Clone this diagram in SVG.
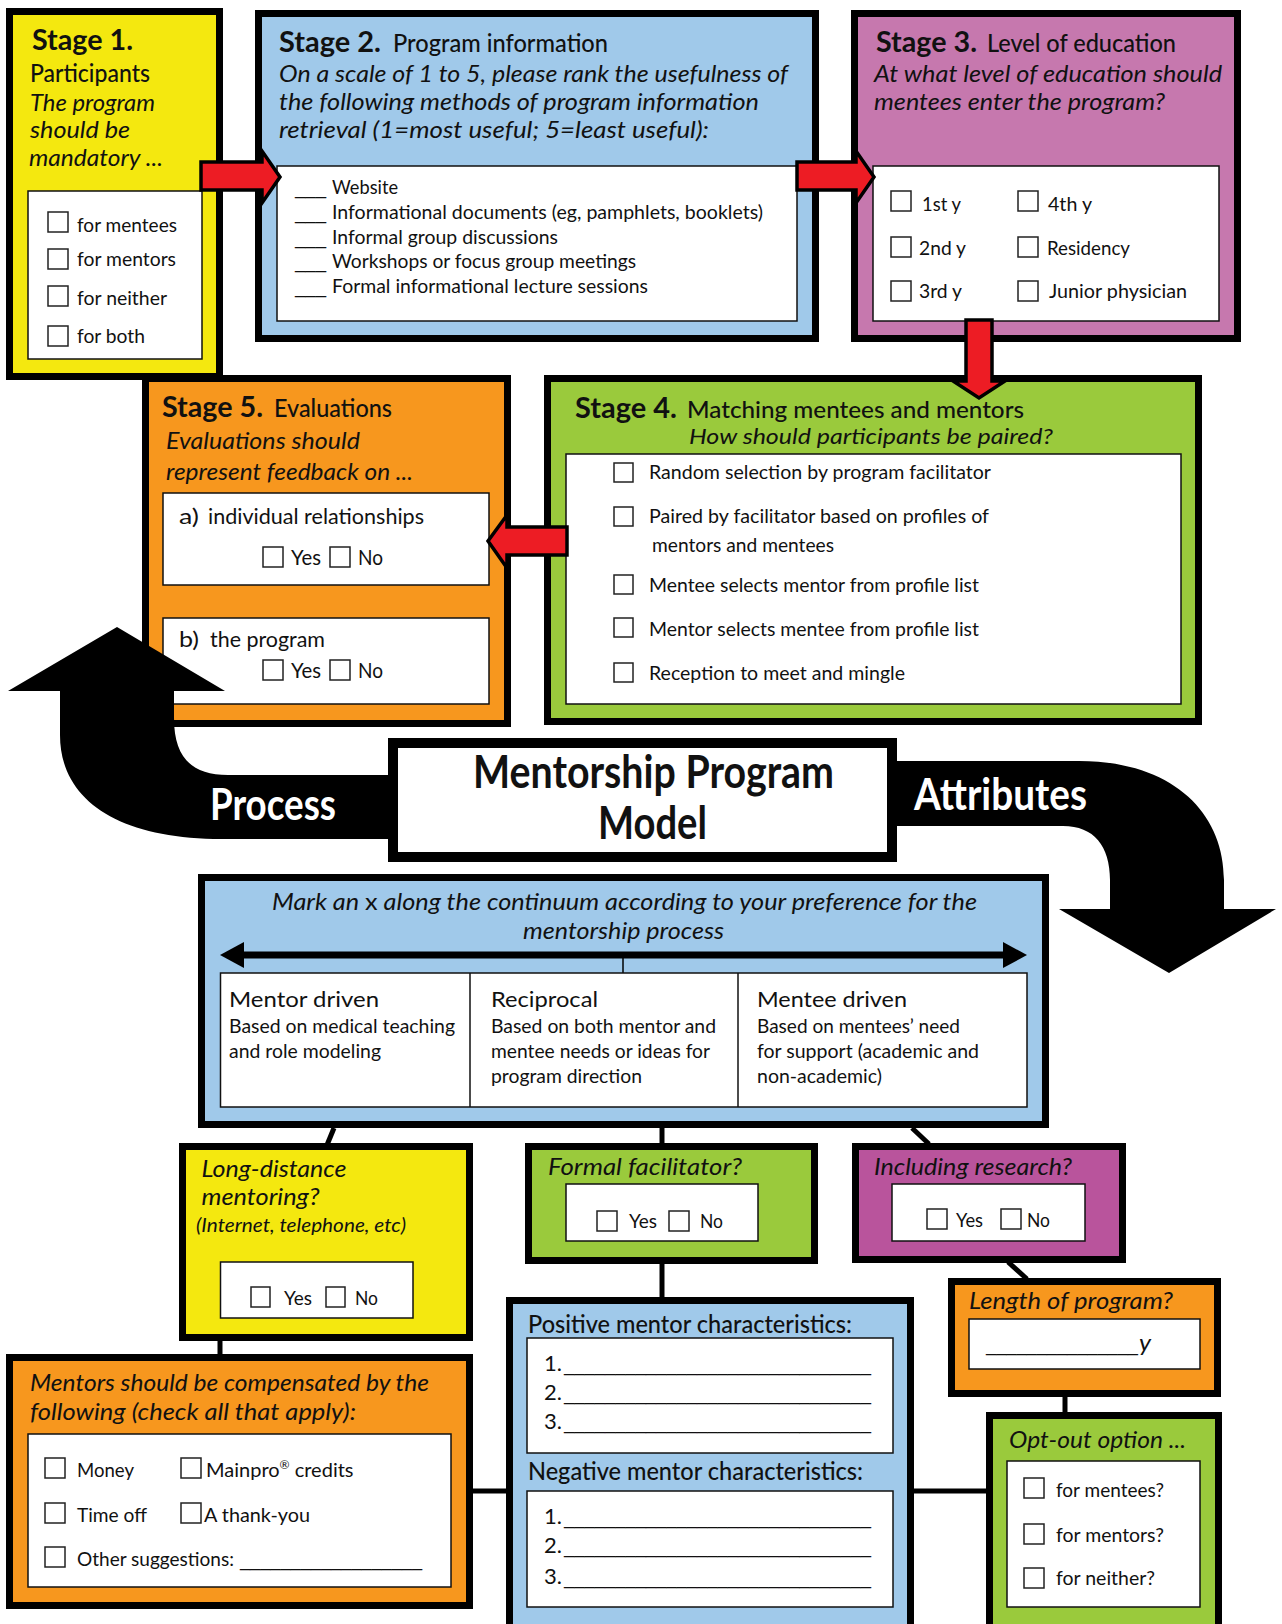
<svg xmlns="http://www.w3.org/2000/svg" width="1282" height="1624" viewBox="0 0 1282 1624">
<style>
text{font-family:Lato,"Open Sans","Liberation Sans",sans-serif;fill:#111}
.box{stroke:#000;stroke-width:7}
.inner{fill:#fff;stroke:#111;stroke-width:1.5}
.cb{fill:#fff;stroke:#222;stroke-width:1.5}
.h{font-weight:bold;font-size:29px}
.s{font-size:24px;font-weight:500}
.i{font-style:italic;font-size:24px}
.t{font-size:20px}
.b{font-size:22px}
.u{font-family:"DejaVu Sans",sans-serif;font-size:20px}
.y{fill:#F4E80F}.bl{fill:#A0C9EA}.pu{fill:#C678AE}.gr{fill:#9ACA3C}.or{fill:#F7971E}.pr{fill:#B9549C}
.conn{stroke:#000;stroke-width:5;fill:none}
.red{fill:#ED1C24;stroke:#000;stroke-width:3.5}
.big{font-weight:bold;font-size:46px}
.wt{fill:#fff;font-weight:bold;font-size:44px}
</style>
<rect width="1282" height="1624" fill="#fff"/>

<g id="stage1">
<rect class="box y" x="9.5" y="11.5" width="210" height="365"/>
<text class="h" x="32" y="50" textLength="101" lengthAdjust="spacingAndGlyphs">Stage 1.</text>
<text class="s" x="30" y="82" textLength="120" lengthAdjust="spacingAndGlyphs">Participants</text>
<text class="i" x="30" y="111" textLength="125" lengthAdjust="spacingAndGlyphs">The program</text>
<text class="i" x="30" y="138" textLength="100" lengthAdjust="spacingAndGlyphs">should be</text>
<text class="i" x="29" y="166" textLength="134" lengthAdjust="spacingAndGlyphs">mandatory ...</text>
<rect class="inner" x="28" y="191" width="174" height="168"/>
<rect class="cb" x="48" y="212" width="20" height="20"/>
<rect class="cb" x="48" y="249" width="20" height="20"/>
<rect class="cb" x="48" y="286" width="20" height="20"/>
<rect class="cb" x="48" y="326" width="20" height="20"/>
<text class="t" x="77" y="232" textLength="100" lengthAdjust="spacingAndGlyphs">for mentees</text>
<text class="t" x="77" y="266" textLength="99" lengthAdjust="spacingAndGlyphs">for mentors</text>
<text class="t" x="77" y="305" textLength="90" lengthAdjust="spacingAndGlyphs">for neither</text>
<text class="t" x="77" y="343" textLength="68" lengthAdjust="spacingAndGlyphs">for both</text>
</g>

<g id="stage2">
<rect class="box bl" x="258.5" y="13.5" width="557" height="325"/>
<text class="h" x="279" y="52" textLength="102" lengthAdjust="spacingAndGlyphs">Stage 2.</text>
<text class="s" x="393" y="52" textLength="215" lengthAdjust="spacingAndGlyphs">Program information</text>
<text class="i" x="279" y="82" textLength="509" lengthAdjust="spacingAndGlyphs">On a scale of 1 to 5, please rank the usefulness of</text>
<text class="i" x="279" y="110" textLength="480" lengthAdjust="spacingAndGlyphs">the following methods of program information</text>
<text class="i" x="279" y="138" textLength="430" lengthAdjust="spacingAndGlyphs">retrieval (1=most useful; 5=least useful):</text>
<rect class="inner" x="277" y="166" width="520" height="155"/>
<text class="u" x="295" y="194" textLength="31" lengthAdjust="spacingAndGlyphs">___</text>
<text class="t" x="332" y="194" textLength="66" lengthAdjust="spacingAndGlyphs">Website</text>
<text class="u" x="295" y="219" textLength="31" lengthAdjust="spacingAndGlyphs">___</text>
<text class="t" x="332" y="219" textLength="431" lengthAdjust="spacingAndGlyphs">Informational documents (eg, pamphlets, booklets)</text>
<text class="u" x="295" y="244" textLength="31" lengthAdjust="spacingAndGlyphs">___</text>
<text class="t" x="332" y="244" textLength="226" lengthAdjust="spacingAndGlyphs">Informal group discussions</text>
<text class="u" x="295" y="268" textLength="31" lengthAdjust="spacingAndGlyphs">___</text>
<text class="t" x="332" y="268" textLength="304" lengthAdjust="spacingAndGlyphs">Workshops or focus group meetings</text>
<text class="u" x="295" y="293" textLength="31" lengthAdjust="spacingAndGlyphs">___</text>
<text class="t" x="332" y="293" textLength="316" lengthAdjust="spacingAndGlyphs">Formal informational lecture sessions</text>
</g>

<g id="stage3">
<rect class="box pu" x="854.5" y="13.5" width="383" height="325"/>
<text class="h" x="876" y="52" textLength="101" lengthAdjust="spacingAndGlyphs">Stage 3.</text>
<text class="s" x="987" y="52" textLength="189" lengthAdjust="spacingAndGlyphs">Level of education</text>
<text class="i" x="874" y="82" textLength="348" lengthAdjust="spacingAndGlyphs">At what level of education should</text>
<text class="i" x="874" y="110" textLength="291" lengthAdjust="spacingAndGlyphs">mentees enter the program?</text>
<rect class="inner" x="873" y="166" width="346" height="155"/>
<rect class="cb" x="891" y="191" width="20" height="20"/>
<rect class="cb" x="891" y="237" width="20" height="20"/>
<rect class="cb" x="891" y="281" width="20" height="20"/>
<rect class="cb" x="1018" y="191" width="20" height="20"/>
<rect class="cb" x="1018" y="237" width="20" height="20"/>
<rect class="cb" x="1018" y="281" width="20" height="20"/>
<text class="t" x="922" y="211" textLength="39" lengthAdjust="spacingAndGlyphs">1st y</text>
<text class="t" x="919" y="255" textLength="47" lengthAdjust="spacingAndGlyphs">2nd y</text>
<text class="t" x="919" y="298" textLength="43" lengthAdjust="spacingAndGlyphs">3rd y</text>
<text class="t" x="1048" y="211" textLength="44" lengthAdjust="spacingAndGlyphs">4th y</text>
<text class="t" x="1047" y="255" textLength="83" lengthAdjust="spacingAndGlyphs">Residency</text>
<text class="t" x="1049" y="298" textLength="138" lengthAdjust="spacingAndGlyphs">Junior physician</text>
</g>

<g id="stage4">
<rect class="box gr" x="547.5" y="378.5" width="651" height="343"/>
<text class="h" x="575" y="418" textLength="102" lengthAdjust="spacingAndGlyphs">Stage 4.</text>
<text class="s" x="687" y="418" style="font-size:23px" textLength="337" lengthAdjust="spacingAndGlyphs">Matching mentees and mentors</text>
<text class="i" x="689" y="444" style="font-size:22px" textLength="364" lengthAdjust="spacingAndGlyphs">How should participants be paired?</text>
<rect class="inner" x="566" y="454" width="615" height="250"/>
<rect class="cb" x="614" y="463" width="19" height="19"/>
<rect class="cb" x="614" y="507" width="19" height="19"/>
<rect class="cb" x="614" y="575" width="19" height="19"/>
<rect class="cb" x="614" y="618" width="19" height="19"/>
<rect class="cb" x="614" y="663" width="19" height="19"/>
<text class="t" x="649" y="479" textLength="342" lengthAdjust="spacingAndGlyphs">Random selection by program facilitator</text>
<text class="t" x="649" y="523" textLength="340" lengthAdjust="spacingAndGlyphs">Paired by facilitator based on profiles of</text>
<text class="t" x="652" y="552" textLength="182" lengthAdjust="spacingAndGlyphs">mentors and mentees</text>
<text class="t" x="649" y="592" textLength="330" lengthAdjust="spacingAndGlyphs">Mentee selects mentor from profile list</text>
<text class="t" x="649" y="636" textLength="330" lengthAdjust="spacingAndGlyphs">Mentor selects mentee from profile list</text>
<text class="t" x="649" y="680" textLength="256" lengthAdjust="spacingAndGlyphs">Reception to meet and mingle</text>
</g>

<g id="stage5">
<rect class="box or" x="145.5" y="378.5" width="362" height="345"/>
<text class="h" x="162" y="417" textLength="101" lengthAdjust="spacingAndGlyphs">Stage 5.</text>
<text class="s" x="274" y="417" textLength="118" lengthAdjust="spacingAndGlyphs">Evaluations</text>
<text class="i" x="166" y="449" textLength="194" lengthAdjust="spacingAndGlyphs">Evaluations should</text>
<text class="i" x="166" y="480" textLength="247" lengthAdjust="spacingAndGlyphs">represent feedback on ...</text>
<rect class="inner" x="163" y="493" width="326" height="92"/>
<text class="b" x="179" y="524" textLength="20" lengthAdjust="spacingAndGlyphs">a)</text>
<text class="b" x="208" y="524" textLength="216" lengthAdjust="spacingAndGlyphs">individual relationships</text>
<rect class="cb" x="263" y="547" width="20" height="20"/>
<rect class="cb" x="330" y="547" width="20" height="20"/>
<text class="b" x="291" y="565" textLength="30" lengthAdjust="spacingAndGlyphs">Yes</text>
<text class="b" x="358" y="565" textLength="25" lengthAdjust="spacingAndGlyphs">No</text>
<rect class="inner" x="163" y="618" width="326" height="86"/>
<text class="b" x="179" y="647" textLength="20" lengthAdjust="spacingAndGlyphs">b)</text>
<text class="b" x="210" y="647" textLength="115" lengthAdjust="spacingAndGlyphs">the program</text>
<rect class="cb" x="263" y="660" width="20" height="20"/>
<rect class="cb" x="330" y="660" width="20" height="20"/>
<text class="b" x="291" y="678" textLength="30" lengthAdjust="spacingAndGlyphs">Yes</text>
<text class="b" x="358" y="678" textLength="25" lengthAdjust="spacingAndGlyphs">No</text>
</g>

<g id="continuum">
<rect class="box bl" x="201.5" y="877.5" width="844" height="247"/>
<text class="i" x="272" y="910" textLength="705" lengthAdjust="spacingAndGlyphs">Mark an <tspan font-style="normal">x</tspan> along the continuum according to your preference for the</text>
<text class="i" x="523" y="939" textLength="201" lengthAdjust="spacingAndGlyphs">mentorship process</text>
<line x1="240" y1="955" x2="1007" y2="955" stroke="#000" stroke-width="7"/>
<polygon points="220,955 244,942 244,968" fill="#000"/>
<polygon points="1027,955 1003,942 1003,968" fill="#000"/>
<line x1="623" y1="958" x2="623" y2="973" stroke="#000" stroke-width="1.5"/>
<rect class="inner" x="220.5" y="973" width="806.5" height="134"/>
<line x1="470" y1="973" x2="470" y2="1107" stroke="#111" stroke-width="1.5"/>
<line x1="738" y1="973" x2="738" y2="1107" stroke="#111" stroke-width="1.5"/>
<text class="b" x="229" y="1007" textLength="150" lengthAdjust="spacingAndGlyphs">Mentor driven</text>
<text class="t" x="229" y="1033" textLength="226" lengthAdjust="spacingAndGlyphs">Based on medical teaching</text>
<text class="t" x="229" y="1058" textLength="152" lengthAdjust="spacingAndGlyphs">and role modeling</text>
<text class="b" x="491" y="1007" textLength="107" lengthAdjust="spacingAndGlyphs">Reciprocal</text>
<text class="t" x="491" y="1033" textLength="225" lengthAdjust="spacingAndGlyphs">Based on both mentor and</text>
<text class="t" x="491" y="1058" textLength="219" lengthAdjust="spacingAndGlyphs">mentee needs or ideas for</text>
<text class="t" x="491" y="1083" textLength="151" lengthAdjust="spacingAndGlyphs">program direction</text>
<text class="b" x="757" y="1007" textLength="150" lengthAdjust="spacingAndGlyphs">Mentee driven</text>
<text class="t" x="757" y="1033" textLength="203" lengthAdjust="spacingAndGlyphs">Based on mentees’ need</text>
<text class="t" x="757" y="1058" textLength="222" lengthAdjust="spacingAndGlyphs">for support (academic and</text>
<text class="t" x="757" y="1083" textLength="125" lengthAdjust="spacingAndGlyphs">non-academic)</text>
</g>

<g id="longdistance">
<rect class="box y" x="182.5" y="1146.5" width="287" height="191"/>
<text class="i" x="201.5" y="1177" textLength="145" lengthAdjust="spacingAndGlyphs">Long-distance</text>
<text class="i" x="201.5" y="1205" textLength="118" lengthAdjust="spacingAndGlyphs">mentoring?</text>
<text class="i" x="196" y="1232" style="font-size:19px" textLength="210" lengthAdjust="spacingAndGlyphs">(Internet, telephone, etc)</text>
<rect class="inner" x="220.5" y="1262" width="192.5" height="56"/>
<rect class="cb" x="251" y="1287" width="19" height="20"/>
<rect class="cb" x="326" y="1287" width="19" height="20"/>
<text class="t" x="284" y="1305" textLength="28" lengthAdjust="spacingAndGlyphs">Yes</text>
<text class="t" x="355" y="1305" textLength="23" lengthAdjust="spacingAndGlyphs">No</text>
</g>

<g id="facilitator">
<rect class="box gr" x="528.5" y="1146.5" width="286" height="114"/>
<text class="i" x="548" y="1175" textLength="194" lengthAdjust="spacingAndGlyphs">Formal facilitator?</text>
<rect class="inner" x="566" y="1184" width="192" height="57"/>
<rect class="cb" x="597" y="1211" width="20" height="20"/>
<rect class="cb" x="669" y="1211" width="20" height="20"/>
<text class="t" x="629" y="1228" textLength="28" lengthAdjust="spacingAndGlyphs">Yes</text>
<text class="t" x="700" y="1228" textLength="23" lengthAdjust="spacingAndGlyphs">No</text>
</g>

<g id="research">
<rect class="box pr" x="855.5" y="1146.5" width="267" height="113"/>
<text class="i" x="874" y="1175" textLength="198" lengthAdjust="spacingAndGlyphs">Including research?</text>
<rect class="inner" x="892" y="1184" width="193" height="57"/>
<rect class="cb" x="927" y="1209" width="20" height="20"/>
<rect class="cb" x="1001" y="1209" width="20" height="20"/>
<text class="t" x="956" y="1227" textLength="27" lengthAdjust="spacingAndGlyphs">Yes</text>
<text class="t" x="1027" y="1227" textLength="23" lengthAdjust="spacingAndGlyphs">No</text>
</g>

<g id="length">
<rect class="box or" x="951.5" y="1281.5" width="266" height="112"/>
<text class="i" x="969" y="1309" textLength="204" lengthAdjust="spacingAndGlyphs">Length of program?</text>
<rect class="inner" x="969" y="1319" width="231" height="50"/>
<text class="u" x="986" y="1351" textLength="152" lengthAdjust="spacingAndGlyphs">_______________</text>
<text class="i" x="1139" y="1351" textLength="12" lengthAdjust="spacingAndGlyphs">y</text>
</g>

<g id="optout">
<rect class="box gr" x="989.5" y="1415.5" width="229" height="230"/>
<text class="i" x="1009" y="1448" textLength="177" lengthAdjust="spacingAndGlyphs">Opt-out option ...</text>
<rect class="inner" x="1007" y="1461" width="193" height="146"/>
<rect class="cb" x="1024" y="1478" width="20" height="20"/>
<rect class="cb" x="1024" y="1524" width="20" height="20"/>
<rect class="cb" x="1024" y="1568" width="20" height="20"/>
<text class="t" x="1056" y="1497" textLength="108" lengthAdjust="spacingAndGlyphs">for mentees?</text>
<text class="t" x="1056" y="1542" textLength="108" lengthAdjust="spacingAndGlyphs">for mentors?</text>
<text class="t" x="1056" y="1585" textLength="99" lengthAdjust="spacingAndGlyphs">for neither?</text>
</g>

<g id="characteristics">
<rect class="box bl" x="509.5" y="1300.5" width="401" height="340"/>
<text class="s" x="528" y="1333" textLength="324" lengthAdjust="spacingAndGlyphs">Positive mentor characteristics:</text>
<rect class="inner" x="527" y="1338" width="366" height="115"/>
<text class="b" x="544" y="1371">1.</text>
<text class="b" x="544" y="1400">2.</text>
<text class="b" x="544" y="1429">3.</text>
<text class="u" x="564" y="1371" textLength="307" lengthAdjust="spacingAndGlyphs">______________________________</text>
<text class="u" x="564" y="1400" textLength="307" lengthAdjust="spacingAndGlyphs">______________________________</text>
<text class="u" x="564" y="1429" textLength="307" lengthAdjust="spacingAndGlyphs">______________________________</text>
<text class="s" x="528" y="1480" textLength="335" lengthAdjust="spacingAndGlyphs">Negative mentor characteristics:</text>
<rect class="inner" x="527" y="1491" width="366" height="116"/>
<text class="b" x="544" y="1524">1.</text>
<text class="b" x="544" y="1553">2.</text>
<text class="b" x="544" y="1584">3.</text>
<text class="u" x="564" y="1524" textLength="307" lengthAdjust="spacingAndGlyphs">______________________________</text>
<text class="u" x="564" y="1553" textLength="307" lengthAdjust="spacingAndGlyphs">______________________________</text>
<text class="u" x="564" y="1584" textLength="307" lengthAdjust="spacingAndGlyphs">______________________________</text>
</g>

<g id="compensation">
<rect class="box or" x="9.5" y="1357.5" width="460" height="248"/>
<text class="i" x="30" y="1391" textLength="399" lengthAdjust="spacingAndGlyphs">Mentors should be compensated by the</text>
<text class="i" x="30" y="1420" textLength="326" lengthAdjust="spacingAndGlyphs">following (check all that apply):</text>
<rect class="inner" x="28" y="1434" width="423" height="153"/>
<rect class="cb" x="45" y="1458" width="20" height="20"/>
<rect class="cb" x="45" y="1503" width="20" height="20"/>
<rect class="cb" x="45" y="1547" width="20" height="20"/>
<rect class="cb" x="181" y="1458" width="20" height="20"/>
<rect class="cb" x="181" y="1503" width="20" height="20"/>
<text class="t" x="77" y="1477" textLength="57" lengthAdjust="spacingAndGlyphs">Money</text>
<text class="t" x="77" y="1522" textLength="70" lengthAdjust="spacingAndGlyphs">Time off</text>
<text class="t" x="77" y="1566" textLength="157" lengthAdjust="spacingAndGlyphs">Other suggestions:</text>
<text class="u" x="240" y="1566" textLength="182" lengthAdjust="spacingAndGlyphs">__________________</text>
<text class="t" x="206" y="1477">Mainpro<tspan font-size="12" dy="-8">®</tspan><tspan dy="8"> credits</tspan></text>
<text class="t" x="204" y="1522" textLength="106" lengthAdjust="spacingAndGlyphs">A thank-you</text>
</g>

<g id="connectors">
<line class="conn" x1="334" y1="1128" x2="327" y2="1145"/>
<line class="conn" x1="662" y1="1128" x2="662" y2="1144"/>
<line class="conn" x1="912" y1="1128" x2="929" y2="1144"/>
<line class="conn" x1="662" y1="1263" x2="662" y2="1298"/>
<line class="conn" x1="1008" y1="1262" x2="1027" y2="1279"/>
<line class="conn" x1="1065" y1="1396" x2="1065" y2="1413"/>
<line class="conn" x1="220" y1="1340" x2="220" y2="1355"/>
<line class="conn" x1="472" y1="1491" x2="507" y2="1491"/>
<line class="conn" x1="913" y1="1491" x2="987" y2="1491"/>
<polygon class="red" points="201,162 262,162 262,151 280,177 262,203 262,190 201,190"/>
<polygon class="red" points="797,162 856,162 856,151 874,177 856,203 856,190 797,190"/>
<polygon class="red" points="966,320 992,320 992,381 1005,381 979,398 953,381 966,381"/>
<polygon class="red" points="567,527 507,527 507,515 488,541 507,568 507,555 567,555"/>
<path d="M117,627 L225,691 L174,691 L174,718 C174,758 192,775 228,775 L392,775 L392,839 L222,839 C118,839 60,800 60,735 L60,691 L8,691 Z" fill="#000"/>
<path d="M895,761 L1079,761 C1172,761 1224,812 1224,880 L1224,909 L1276,909 L1169,973 L1059,909 L1110,909 L1110,880 C1110,846 1094,826 1063,826 L895,826 Z" fill="#000"/>
<text class="wt" x="210" y="820" textLength="126" lengthAdjust="spacingAndGlyphs">Process</text>
<text class="wt" x="914" y="810" textLength="173" lengthAdjust="spacingAndGlyphs">Attributes</text>
</g>

<g id="model">
<rect x="393" y="743" width="499" height="114" fill="#fff" stroke="#000" stroke-width="10"/>
<text class="big" x="473" y="788" textLength="361" lengthAdjust="spacingAndGlyphs">Mentorship Program</text>
<text class="big" x="598" y="839" textLength="109" lengthAdjust="spacingAndGlyphs">Model</text>
</g>
</svg>
